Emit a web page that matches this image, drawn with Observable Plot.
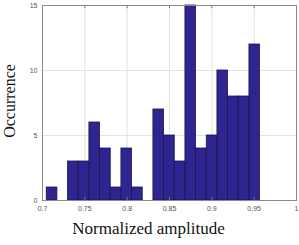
<!DOCTYPE html>
<html>
<head>
<meta charset="utf-8">
<script src="https://cdn.jsdelivr.net/npm/d3@7"></script>
<script src="https://cdn.jsdelivr.net/npm/@observablehq/plot@0.6"></script>
<style>
  html, body { margin: 0; padding: 0; background: #fff; }
</style>
</head>
<body>
<div id="chart"></div>
<script>
const binEdges = [0.705, 0.7176, 0.7302, 0.7428, 0.7554, 0.768, 0.7806, 0.7932, 0.8058, 0.8184, 0.831,
                  0.8436, 0.8562, 0.8688, 0.8814, 0.894, 0.9066, 0.9192, 0.9318, 0.9444, 0.957];
const counts = [1, 0, 3, 3, 6, 4, 1, 4, 1, 0, 7, 5, 3, 15, 4, 5, 10, 8, 8, 12];
const xTicks = [0.7, 0.75, 0.8, 0.85, 0.9, 0.95, 1];
const xTickLabels = ["0.7", "0.75", "0.8", "0.85", "0.9", "0.95", "1"];
const yTicks = [0, 5, 10, 15];
const xLabel = "Normalized amplitude";
const yLabel = "Occurrence";

const bins = counts.map((c, i) => ({x1: binEdges[i], x2: binEdges[i + 1], y: c})).filter(d => d.y > 0);

const chart = Plot.plot({
  width: 299,
  height: 245,
  marginLeft: 42,
  marginRight: 3,
  marginTop: 5,
  marginBottom: 45,
  style: {background: "#fff", overflow: "visible"},
  x: {domain: [0.7, 1]},
  y: {domain: [0, 15]},
  marks: [
    Plot.gridX(xTicks, {stroke: "#e3e3e3", strokeOpacity: 1}),
    Plot.gridY(yTicks, {stroke: "#e3e3e3", strokeOpacity: 1}),
    Plot.rectY(bins, {x1: "x1", x2: "x2", y: "y", fill: "#2f2590", stroke: "#1a1450", strokeWidth: 0.8, inset: 0}),
    Plot.ruleX(xTicks, {y1: 0, y2: 0.25, stroke: "#777"}),
    Plot.ruleX(xTicks, {y1: 14.75, y2: 15, stroke: "#777"}),
    Plot.frame({stroke: "#8a8a8a"}),
    Plot.axisX(xTicks, {tickSize: 0, tickPadding: 6, fontSize: 7, fill: "#555", fontFamily: "Arial, Liberation Sans, sans-serif",
      tickFormat: (d, i) => xTickLabels[i], label: null}),
    Plot.axisY(yTicks, {tickSize: 0, tickPadding: 5, fontSize: 7, fill: "#555", fontFamily: "Arial, Liberation Sans, sans-serif", label: null}),
    Plot.text([xLabel], {frameAnchor: "bottom", textAnchor: "middle", dx: -21, dy: 33, fontSize: 17, fill: "#111",
      fontFamily: "Liberation Serif, serif"}),
    Plot.text([yLabel], {frameAnchor: "left", textAnchor: "middle", rotate: -90, dx: -33, dy: -2, fontSize: 16, fill: "#111",
      fontFamily: "Liberation Serif, serif"})
  ]
});
document.getElementById("chart").appendChild(chart);
</script>
</body>
</html>
